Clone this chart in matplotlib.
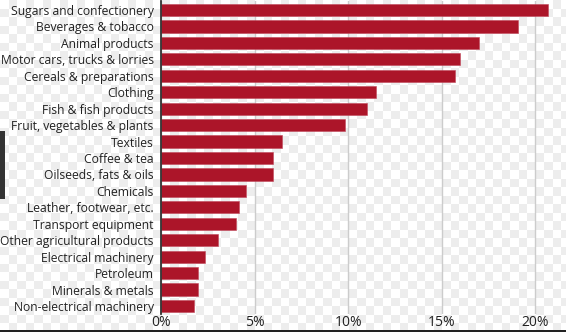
import matplotlib

matplotlib.use("Agg")
import matplotlib.pyplot as plt
import numpy as np
from matplotlib.patches import Rectangle

categories = [
    "Sugars and confectionery",
    "Beverages & tobacco",
    "Animal products",
    "Motor cars, trucks & lorries",
    "Cereals & preparations",
    "Clothing",
    "Fish & fish products",
    "Fruit, vegetables & plants",
    "Textiles",
    "Coffee & tea",
    "Oilseeds, fats & oils",
    "Chemicals",
    "Leather, footwear, etc.",
    "Transport equipment",
    "Other agricultural products",
    "Electrical machinery",
    "Petroleum",
    "Minerals & metals",
    "Non-electrical machinery",
]
values = [20.7, 19.1, 17.0, 16.0, 15.7, 11.5, 11.0, 9.85, 6.45, 5.95, 5.95,
          4.55, 4.15, 4.0, 3.05, 2.35, 1.95, 1.95, 1.75]
xticks = [0, 5, 10, 15, 20]
xtick_labels = ["0%", "5%", "10%", "15%", "20%"]

BAR = "#AC1529"
TEXT = "#222222"
W, H = 566, 332

plt.rcParams["font.family"] = ["Open Sans", "DejaVu Sans"]
fig = plt.figure(figsize=(W / 100, H / 100), dpi=100)

# checkerboard backdrop (transparent-image look)
bg = fig.add_axes([0, 0, 1, 1], zorder=-10)
cell = 8.5
yy, xx = np.mgrid[0:H, 0:W]
checker = ((xx // cell + yy // cell) % 2).astype(float)
bg.imshow(checker, cmap="gray_r", vmin=0, vmax=14, extent=(0, W, H, 0),
          interpolation="nearest", aspect="auto")
bg.set_xlim(0, W)
bg.set_ylim(H, 0)
bg.axis("off")
bg.add_patch(Rectangle((0, 131), 4.5, 68, color="#333333", lw=0))
bg.add_patch(Rectangle((0, 329.5), W, 3, color="#222222", lw=0))

left, right, top, bottom = 161.5, W, 1, 314
ax = fig.add_axes([left / W, 1 - bottom / H, (right - left) / W, (bottom - top) / H])
ax.patch.set_alpha(0)

y = np.arange(len(categories))
ax.barh(y, values, height=0.74, color=BAR, edgecolor="#c0485a", linewidth=0.4, zorder=3)

ax.set_xlim(0, (right - left) / 18.67)
ax.set_ylim(len(categories) - 1 + 0.49, -0.55)

ax.set_xticks(xticks)
ax.set_xticklabels(xtick_labels, fontsize=10, color=TEXT)
ax.set_yticks(y)
ax.set_yticklabels(categories, fontsize=8.7, color=TEXT)
ax.tick_params(axis="both", length=0)
ax.tick_params(axis="y", pad=5.5)
ax.tick_params(axis="x", pad=1)

ax.grid(axis="x", color="#cccccc", linewidth=1.0, zorder=0)
for s in ["top", "right", "bottom"]:
    ax.spines[s].set_visible(False)
ax.spines["left"].set_color("#333333")
ax.spines["left"].set_linewidth(1.3)
ax.spines["left"].set_zorder(4)

fig.savefig("out.png", dpi=100)
